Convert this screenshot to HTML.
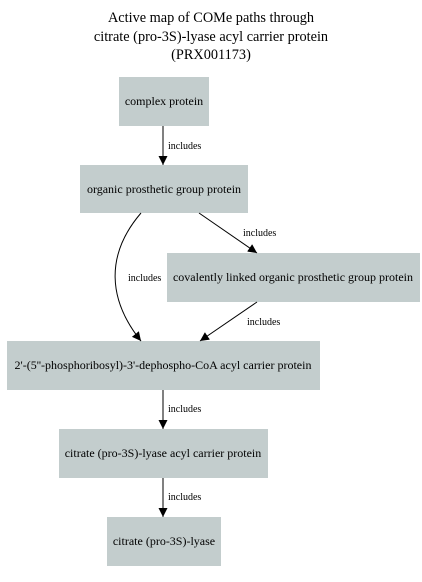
<!DOCTYPE html>
<html><head><meta charset="utf-8"><style>
body{margin:0;background:#fff}
svg{display:block}
text{font-family:"Liberation Serif",serif;fill:#000}
.t{font-size:14.3px}
.n{font-size:12px}
.l{font-size:10px}
rect{fill:#c3cdcd}
path.e{fill:none;stroke:#000;stroke-width:1}
</style></head><body>
<svg width="422" height="582" viewBox="0 0 422 582">
<defs><marker id="ah" viewBox="0 0 10 10" refX="10" refY="5" markerWidth="9" markerHeight="9" markerUnits="userSpaceOnUse" orient="auto"><path d="M0,0L10,5L0,10z" fill="#000"/></marker></defs>
<g>
<text class="t" x="211" y="22" text-anchor="middle">Active map of COMe paths through</text>
<text class="t" x="211" y="41" text-anchor="middle">citrate (pro-3S)-lyase acyl carrier protein</text>
<text class="t" x="211" y="59" text-anchor="middle">(PRX001173)</text>
</g>
<g><rect x="119" y="77" width="90" height="49"/><text class="n" x="164" y="105" text-anchor="middle">complex protein</text></g>
<g><rect x="80" y="165" width="168" height="48"/><text class="n" x="164" y="193" text-anchor="middle">organic prosthetic group protein</text></g>
<g><rect x="167" y="253" width="253" height="49"/><text class="n" x="293" y="281" text-anchor="middle">covalently linked organic prosthetic group protein</text></g>
<g><rect x="7" y="341" width="313" height="49"/><text class="n" x="163" y="369" text-anchor="middle">2'-(5''-phosphoribosyl)-3'-dephospho-CoA acyl carrier protein</text></g>
<g><rect x="59" y="429" width="209" height="49"/><text class="n" x="163" y="457" text-anchor="middle">citrate (pro-3S)-lyase acyl carrier protein</text></g>
<g><rect x="107" y="517" width="114" height="49"/><text class="n" x="164" y="545" text-anchor="middle">citrate (pro-3S)-lyase</text></g>
<g><path class="e" d="M163,126L163,165" marker-end="url(#ah)"/><text class="l" x="168" y="149">includes</text></g>
<g><path class="e" d="M199,213L257,253" marker-end="url(#ah)"/><text class="l" x="243" y="236">includes</text></g>
<g><path class="e" d="M141,213C105,255 108,300 141,341" marker-end="url(#ah)"/><text class="l" x="128" y="281">includes</text></g>
<g><path class="e" d="M257,302L200,341" marker-end="url(#ah)"/><text class="l" x="247" y="325">includes</text></g>
<g><path class="e" d="M163,390L163,429" marker-end="url(#ah)"/><text class="l" x="168" y="412">includes</text></g>
<g><path class="e" d="M163,478L163,517" marker-end="url(#ah)"/><text class="l" x="168" y="500">includes</text></g>
</svg>
</body></html>
